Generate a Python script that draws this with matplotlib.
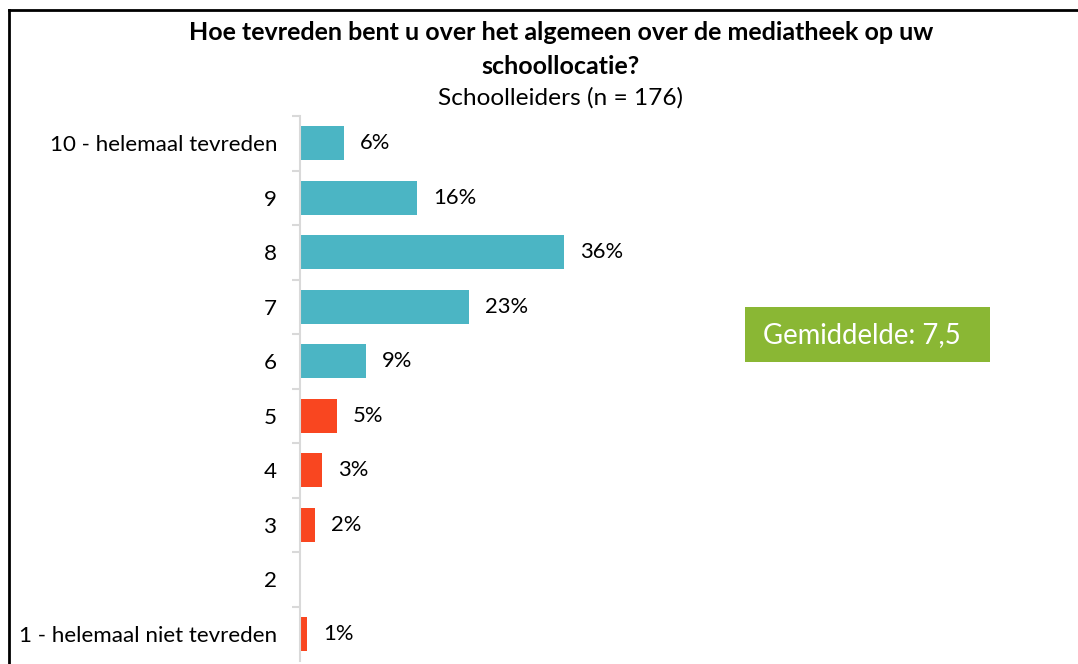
import matplotlib.pyplot as plt
from matplotlib.patches import Rectangle

plt.rcParams['font.family'] = ['Lato', 'DejaVu Sans']

categories = ['10 - helemaal tevreden', '9', '8', '7', '6', '5', '4', '3', '2',
              '1 - helemaal niet tevreden']
values = [6, 16, 36, 23, 9, 5, 3, 2, 0, 1]
value_labels = ['6%', '16%', '36%', '23%', '9%', '5%', '3%', '2%', '', '1%']
title_lines = ['Hoe tevreden bent u over het algemeen over de mediatheek op uw',
               'schoollocatie?']
subtitle = 'Schoolleiders (n = 176)'
mean_text = 'Gemiddelde: 7,5'

teal = '#4BB5C4'
red = '#F94620'
colors = [teal] * 5 + [red] * 5

fig = plt.figure(figsize=(10.78, 6.64), dpi=100)
ax = fig.add_axes([300 / 1078, 3 / 664, 760 / 1078, 545 / 664])

ypos = list(range(len(categories)))
ax.barh(ypos, values, height=0.62, color=colors)
for y, v, lab in zip(ypos, values, value_labels):
    if lab:
        ax.text(v + 2.2, y, lab, va='center', ha='left', fontsize=15.8, color='#000000')

ax.set_ylim(len(categories) - 0.5, -0.5)
ax.set_xlim(0, 760 / 7.33)
ax.set_yticks(ypos)
ax.set_yticklabels(categories, fontsize=16.1)
ax.tick_params(axis='y', length=0, pad=16.5)
ax.set_yticks([i + 0.5 for i in range(-1, len(categories) - 1)], minor=True)
ax.tick_params(axis='y', which='minor', length=6, color='#D9D9D9', width=1.5)
ax.set_xticks([])
for s in ['top', 'right', 'bottom']:
    ax.spines[s].set_visible(False)
ax.spines['left'].set_color('#D9D9D9')
ax.spines['left'].set_linewidth(1.5)

fig.text(561 / 1078, 1 - 33 / 664, title_lines[0], ha='center', va='center',
         fontsize=18, fontweight='bold')
fig.text(561 / 1078, 1 - 66 / 664, title_lines[1], ha='center', va='center',
         fontsize=18, fontweight='bold')
fig.text(561 / 1078, 1 - 98 / 664, subtitle, ha='center', va='center', fontsize=17.6)

# mean box
fig.patches.append(Rectangle((745 / 1078, 1 - 362 / 664), 245 / 1078, 55 / 664,
                             transform=fig.transFigure, facecolor='#8AB734',
                             edgecolor='none'))
fig.text(862 / 1078, 1 - 335 / 664, mean_text, ha='center', va='center',
         fontsize=19.8, color='white')

# frame lines top and left
fig.add_artist(plt.Line2D([8.5 / 1078, 1], [1 - 10 / 664, 1 - 10 / 664],
                          transform=fig.transFigure, color='black', linewidth=2))
fig.add_artist(plt.Line2D([8.5 / 1078, 8.5 / 1078], [0, 1 - 10 / 664],
                          transform=fig.transFigure, color='black', linewidth=2))

fig.savefig('out.png', dpi=100)
plt.close(fig)
